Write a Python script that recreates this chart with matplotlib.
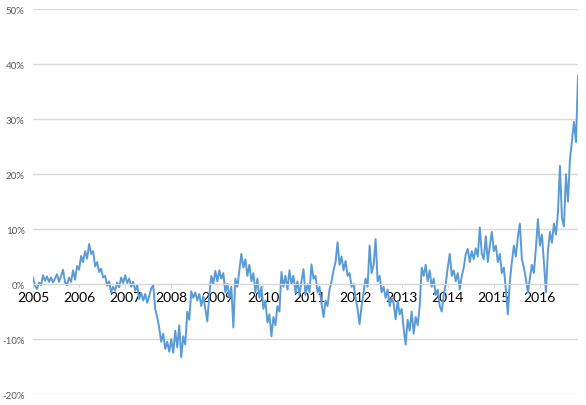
import numpy as np
import pandas as pd
import matplotlib
matplotlib.use('Agg')
import matplotlib.pyplot as plt
import matplotlib.dates as mdates

plt.rcParams['font.family'] = ['Lato', 'DejaVu Sans']

# values in %, every two weeks, one row per year
v2005 = [1.2, -0.3, -0.9, 0.3, -0.2, 1.6, 0.6, 1.4, 0.4, 1.2, 0.3, 1.0,
         1.8, 0.4, 1.5, 2.6, 0.3, -0.2, 1.2, 0.4, 2.5, 0.8, 3.3]
v2006 = [2.6, 5.1, 4.0, 6.0, 4.6, 7.3, 5.5, 6.0, 3.2, 4.0, 2.2, 2.8,
         1.2, 1.5, -0.3, 0.5, -1.5, -0.5, -1.2, 0.3, -0.6, 1.2, 0.2]
v2007 = [1.6, 0.2, 1.0, -0.5, 0.4, -1.2, -0.2, -2.7, -1.6, -3.0, -1.8, -3.4,
         -2.2, -0.8, -0.2, -4.5, -6.0, -8.0, -10.5, -9.0, -11.8, -10.5, -12.3]
v2008 = [-10.0, -12.5, -8.5, -11.5, -7.5, -13.3, -9.5, -11.0, -5.0, -6.5, -1.3, -2.5,
         -1.5, -3.0, -1.8, -4.0, -2.2, -4.5, -6.8, -2.0, 1.5, 0.0, 2.4]
v2009 = [0.5, 2.5, 1.0, 2.0, -1.5, 0.0, -2.5, -0.5, -7.9, 1.0, -0.5, 2.5,
         5.5, 3.0, 4.5, 1.5, 3.5, 0.5, 2.0, -1.5, 1.0, -2.5, -0.5]
v2010 = [-4.5, -3.0, -7.0, -5.5, -9.5, -6.0, -7.5, -4.0, -5.0, 2.2, -0.5, 1.5,
         -1.0, 2.5, 0.0, 1.5, -1.5, 0.5, -2.0, 0.5, 2.7, -2.0, 0.0]
v2011 = [-1.5, 3.6, 1.0, 1.5, -1.5, -0.5, -3.5, -6.0, -3.0, -4.0, -1.0, 0.5,
         2.5, 4.0, 7.6, 3.5, 5.0, 2.5, 4.2, 1.5, 2.0, -0.5, 0.0]
v2012 = [-2.5, -4.5, -7.3, -4.0, -1.5, 1.0, -0.5, 7.0, 2.0, 3.5, 8.2, 0.5,
         1.5, -1.5, -0.5, -2.5, -1.0, -4.0, -2.5, -3.5, -6.4, -3.0, -5.5]
v2013 = [-4.5, -8.0, -11.0, -6.5, -8.5, -5.0, -9.0, -6.0, -7.5, -4.0, 3.0, 1.5,
         3.5, 0.5, 2.5, -0.5, 1.0, -2.0, -1.0, -4.0, -5.0, -2.0, 0.0]
v2014 = [3.0, 5.5, 1.5, 2.5, 0.5, 2.0, -1.0, 1.5, 3.0, 5.5, 6.4, 4.0,
         6.0, 4.5, 6.5, 5.0, 10.3, 5.5, 4.5, 8.7, 4.0, 7.0, 9.5]
v2015 = [6.0, 7.0, 4.0, 5.5, 2.0, 3.0, -1.0, -5.5, 0.5, 4.0, 7.0, 5.0,
         8.5, 11.0, 4.5, 3.0, 1.0, -1.5, 1.0, 3.5, 2.0, 6.5, 11.8]
v2016 = [7.0, 9.0, 4.0, -1.5, 6.0, 9.5, 7.5, 11.0, 9.0, 13.0, 21.5, 12.0,
         10.5, 20.0, 15.0, 22.7, 26.0, 29.5, 25.8, 37.8]

values = (v2005 + v2006 + v2007 + v2008 + v2009 + v2010 + v2011 + v2012
          + v2013 + v2014 + v2015 + v2016)
dates = pd.date_range('2005-01-01', '2016-10-31', periods=len(values))

year_ticks = [str(y) for y in range(2005, 2017)]
y_ticks = [-20, -10, 0, 10, 20, 30, 40, 50]
y_labels = ['-20%', '-10%', '0%', '10%', '20%', '30%', '40%', '50%']

fig = plt.figure(figsize=(5.86, 4.06), dpi=100)
ax = fig.add_axes([0.0563, 0.027, 0.93, 0.948])

ax.plot(dates, values, color='#5B9BD5', linewidth=1.4)

ax.set_ylim(-20, 50)
ax.set_xlim(pd.Timestamp('2005-01-01'), pd.Timestamp('2016-10-31'))
ax.set_yticks(y_ticks)
ax.set_yticklabels(y_labels, fontsize=7, color='#595959')
ax.yaxis.grid(True, color='#d9d9d9', linewidth=1)
ax.set_axisbelow(True)
ax.tick_params(axis='y', length=0, pad=6)

ax.set_xticks([pd.Timestamp(y + '-01-01') for y in year_ticks])
ax.set_xticklabels(year_ticks, fontsize=8.5, fontweight='bold', color='#595959')
ax.tick_params(axis='x', length=3, color='#d9d9d9', pad=2)

for s in ['top', 'right', 'left']:
    ax.spines[s].set_visible(False)
ax.spines['bottom'].set_position(('data', 0))
ax.spines['bottom'].set_color('#d9d9d9')

fig.savefig('out.png', dpi=100)
